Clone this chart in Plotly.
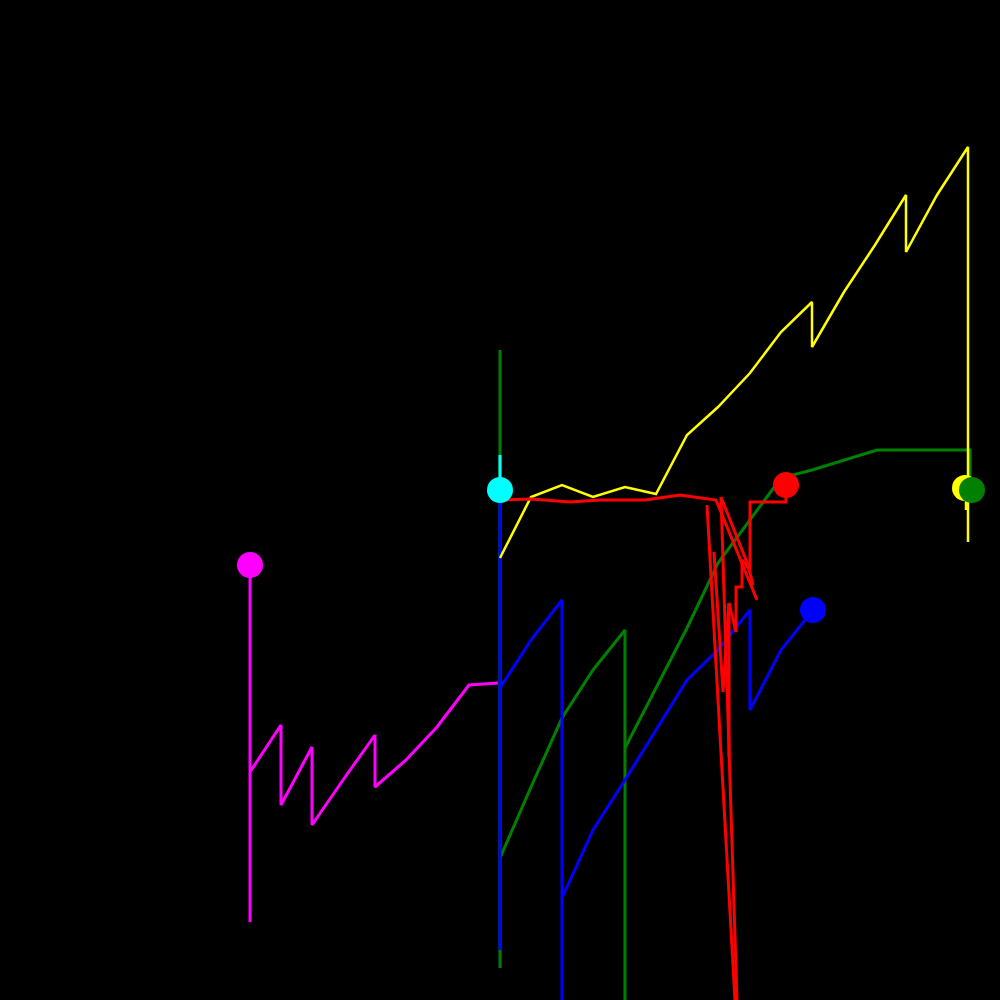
import plotly.graph_objects as go

# Series paths (in chart units)
magenta_x = [250, 250, 250, 281, 281, 312, 312, 343, 375, 375, 406, 437, 469, 498]
magenta_y = [565, 922, 772, 725, 805, 747, 825, 780, 735, 787, 760, 727, 685, 683]

cyan_x = [500, 500]
cyan_y = [455, 490]

green_x = [500, 500, None, 500, 531, 562, 593, 625, 625, None,
           625, 656, 687, 718, 750, 781, 812, 844, 877, 906, 937, 970, 970]
green_y = [350, 968, None, 858, 787, 718, 670, 630, 1000, None,
           748, 688, 628, 563, 520, 478, 470, 460, 450, 450, 450, 450, 482]

blue_x = [500, 500, None, 500, 500, None, 500, 531, 562, 562, None,
          562, 593, 625, 656, 687, 718, 750, 750, 781, 813]
blue_y = [490, 640, None, 640, 950, None, 688, 640, 600, 1000, None,
          898, 830, 780, 730, 680, 650, 610, 710, 650, 610]

yellow_x = [500, 531, 562, 593, 625, 656, 687, 718, 750, 781, 812, 812,
            844, 875, 906, 906, 937, 968, 968, None, 966, 966]
yellow_y = [558, 497, 485, 497, 487, 494, 435, 407, 373, 332, 302, 347,
            292, 245, 195, 252, 195, 147, 542, None, 495, 510]

red_x = [500, 531, 570, 600, 645, 680, 716, 757, None,
         721, 737, None,
         707, 735, None,
         721, 748, 753, None,
         714, 723, 729, 736, 736, 742, 742, 750, 750, 786, 786, None,
         729, 729]
red_y = [500, 499, 502, 500, 500, 495, 500, 600, None,
         497, 1000, None,
         505, 1000, None,
         497, 565, 585, None,
         552, 692, 603, 632, 587, 587, 560, 570, 502, 502, 488, None,
         603, 757]

# marker points
marker_x = [250, 500, 786, 813, 965, 972]
marker_y = [565, 490, 485, 610, 488, 490]
marker_c = ["#ff00ff", "#00ffff", "#ff0000", "#0000ff", "#ffff00", "#008000"]

fig = go.Figure()

def add_line(x, y, color, width):
    fig.add_trace(go.Scatter(x=x, y=y, mode="lines",
                             line=dict(color=color, width=width),
                             connectgaps=False, hoverinfo="skip"))

add_line(green_x, green_y, "#008000", 3)
add_line(cyan_x, cyan_y, "#00ffff", 3)
add_line(blue_x, blue_y, "#0000ff", 3)
add_line(magenta_x, magenta_y, "#ff00ff", 3)
add_line(yellow_x, yellow_y, "#ffff00", 2.5)
add_line(red_x, red_y, "#ff0000", 3)

for mx, my, mc in zip(marker_x, marker_y, marker_c):
    fig.add_trace(go.Scatter(x=[mx], y=[my], mode="markers",
                             marker=dict(color=mc, size=26, line=dict(width=0)),
                             hoverinfo="skip"))

fig.update_layout(
    width=1000, height=1000,
    paper_bgcolor="black", plot_bgcolor="black",
    margin=dict(l=0, r=0, t=0, b=0),
    showlegend=False,
    xaxis=dict(range=[0, 1000], visible=False, fixedrange=True),
    yaxis=dict(range=[1000, 0], visible=False, fixedrange=True),
)

fig.write_html(
    "out.html",
    config={"displayModeBar": False},
    post_script="document.body.style.margin='0';document.body.style.background='black';",
)
